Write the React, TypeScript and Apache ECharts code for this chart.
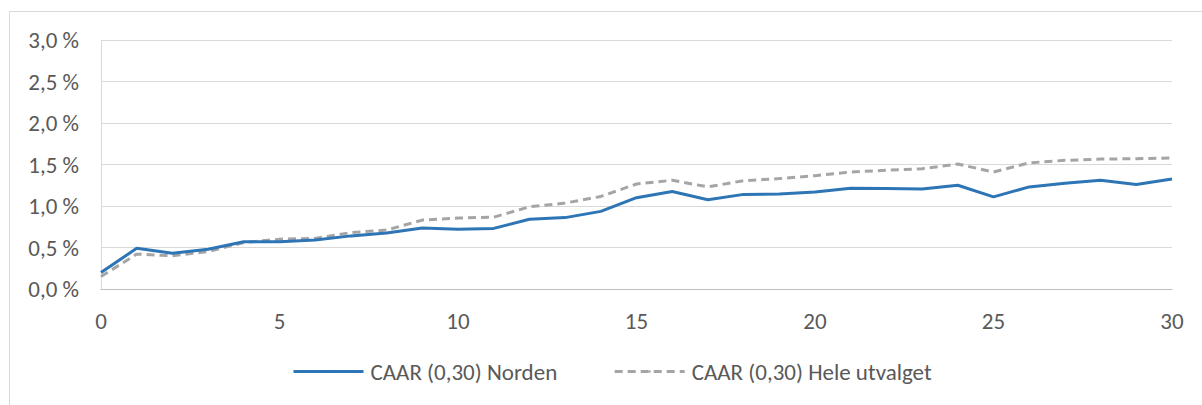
import React, { useEffect, useRef } from "react";
import * as echarts from "echarts";

const days = [0,1,2,3,4,5,6,7,8,9,10,11,12,13,14,15,16,17,18,19,20,21,22,23,24,25,26,27,28,29,30];
const norden = [0.20,0.49,0.43,0.48,0.57,0.57,0.59,0.64,0.675,0.735,0.72,0.73,0.84,0.86,0.935,1.10,1.175,1.075,1.14,1.145,1.17,1.215,1.21,1.205,1.25,1.11,1.23,1.275,1.31,1.26,1.325];
const hele = [0.15,0.42,0.40,0.45,0.56,0.60,0.61,0.68,0.71,0.83,0.855,0.865,0.99,1.035,1.115,1.265,1.31,1.23,1.305,1.33,1.365,1.41,1.43,1.45,1.505,1.41,1.52,1.55,1.565,1.57,1.578];
const seriesNames = ["CAAR (0,30) Norden", "CAAR (0,30) Hele utvalget"];

export default function App() {
  const ref = useRef<HTMLDivElement>(null);
  useEffect(() => {
    if (!ref.current) return;
    const chart = echarts.init(ref.current, undefined, { renderer: "svg" });
    const font = "Carlito, Calibri, 'Liberation Sans', sans-serif";
    chart.setOption({
      animation: false,
      textStyle: { fontFamily: font },
      graphic: [
        {
          type: "rect",
          shape: { x: 9.5, y: 11.5, width: 1300, height: 500 },
          style: { fill: "none", stroke: "#d9d9d9", lineWidth: 1 },
          silent: true,
        },
      ],
      grid: { left: 101, right: 30, top: 40, bottom: 116, containLabel: false },
      xAxis: {
        type: "value",
        min: 0,
        max: 30,
        interval: 5,
        axisLine: { show: true, lineStyle: { color: "#bfbfbf", width: 1 } },
        axisTick: { show: false },
        splitLine: { show: false },
        axisLabel: { color: "#595959", fontSize: 23, margin: 20, fontFamily: font },
      },
      yAxis: {
        type: "value",
        min: 0,
        max: 3,
        interval: 0.5,
        axisLine: { show: true, lineStyle: { color: "#d9d9d9", width: 1 } },
        axisTick: { show: false },
        splitLine: { show: true, lineStyle: { color: "#d9d9d9", width: 1 } },
        axisLabel: {
          color: "#595959",
          fontSize: 23,
          margin: 22,
          fontFamily: font,
          formatter: (v: number) => v.toFixed(1).replace(".", ",") + " %",
        },
      },
      legend: {
        top: 355,
        left: 287,
        itemWidth: 70,
        itemHeight: 3,
        itemGap: 56,
        lineStyle: { width: 3 },
        textStyle: { color: "#595959", fontSize: 23, fontFamily: font, padding: [0, 0, 0, 2] },
        data: seriesNames,
      },
      series: [
        {
          name: seriesNames[0],
          type: "line",
          symbol: "none",
          data: days.map((d, i) => [d, norden[i]]),
          lineStyle: { color: "#2e75b6", width: 3 },
          itemStyle: { color: "#2e75b6" },
          z: 3,
        },
        {
          name: seriesNames[1],
          type: "line",
          symbol: "none",
          data: days.map((d, i) => [d, hele[i]]),
          lineStyle: { color: "#a5a5a5", width: 3, type: [8, 5] },
          itemStyle: { color: "#a5a5a5" },
          z: 2,
        },
      ],
    });
    return () => chart.dispose();
  }, []);
  return (
    <div
      ref={ref}
      style={{ position: "fixed", left: 0, top: 0, width: 1202, height: 405, background: "#fff" }}
    />
  );
}
